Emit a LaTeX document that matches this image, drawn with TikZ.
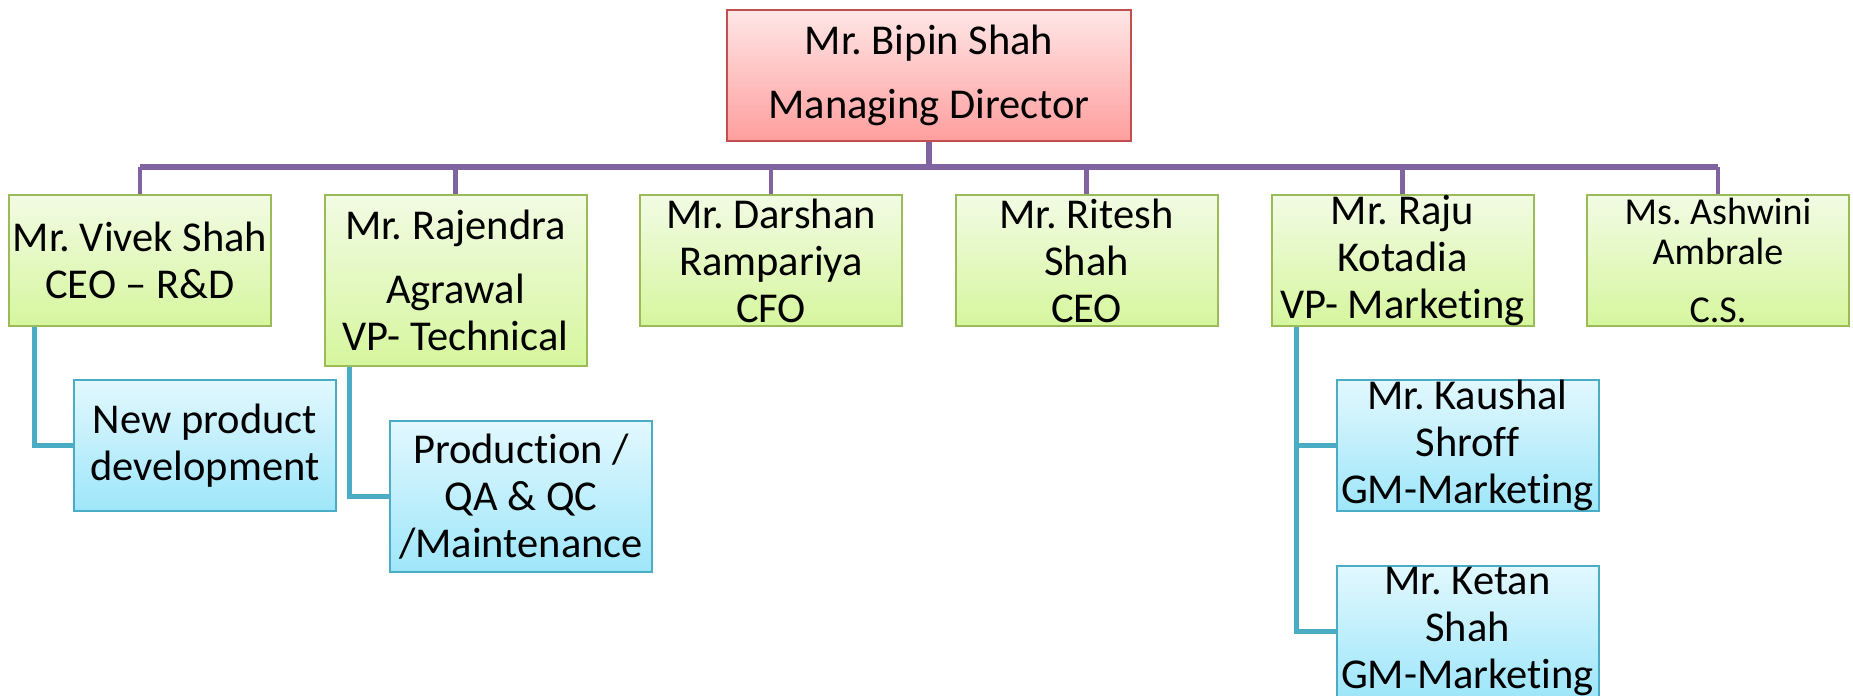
\documentclass[tikz,border=0pt]{standalone}
\usepackage{fontspec}
\setmainfont{Carlito}[Ligatures={NoCommon}]
\frenchspacing
\definecolor{mdred}{RGB}{192,80,77}
\definecolor{mdtop}{RGB}{255,230,230}
\definecolor{mdbot}{RGB}{255,158,158}
\definecolor{gline}{RGB}{155,187,89}
\definecolor{gtop}{RGB}{242,251,228}
\definecolor{gbot}{RGB}{214,246,158}
\definecolor{bline}{RGB}{75,172,198}
\definecolor{btop}{RGB}{226,248,254}
\definecolor{bbot}{RGB}{158,230,250}
\definecolor{orgpurple}{RGB}{128,100,162}
\begin{document}
\begin{tikzpicture}[x=1pt,y=-1pt]
        \tikzstyle{box}=[rectangle,line width=2pt,inner sep=0pt,align=center,font=\fontsize{42.5}{47}\selectfont,minimum width=262pt,minimum height=131pt]
        \tikzstyle{head}=[box,draw=mdred,top color=mdtop,bottom color=mdbot,minimum width=404pt]
        \tikzstyle{member}=[box,draw=gline,top color=gtop,bottom color=gbot]
        \tikzstyle{unit}=[box,draw=bline,top color=btop,bottom color=bbot]
        \tikzstyle{mdline}=[orgpurple,line width=6.5pt]
        \tikzstyle{dropline}=[orgpurple,line width=4.5pt]
        \tikzstyle{subline}=[bline,line width=5pt]

      \useasboundingbox (0,0) rectangle (1853,696);

      \begin{scope}
         \node[head] (md) at (929,75.5) {Mr. Bipin Shah\\[17pt] Managing Director};

         \node[member] (g1) at (140,260.5)    {Mr. Vivek Shah\\ CEO \textendash{} R\&D};
         \node[member,minimum height=171pt] (g2) at (455.5,280.5) {Mr. Rajendra\\[17pt] Agrawal\\ VP- Technical};
         \node[member] (g3) at (771,260.5)    {Mr. Darshan\\ Rampariya\\ CFO};
         \node[member] (g4) at (1086.5,260.5) {Mr. Ritesh\\ Shah\\ CEO};
         \node[member] (g5) at (1402.5,260.5) {Mr. Raju\\ Kotadia\\ VP- Marketing};
         \node[member,font=\fontsize{38}{40}\selectfont] (g6) at (1718,260.5) {Ms. Ashwini\\ Ambrale\\[18pt] C.S.};

         \node[unit] (b11) at (205,445.5) {New product\\ development};
         \node[unit,minimum height=151pt] (b21) at (521,496.5) {Production /\\ QA \& QC\\ /Maintenance};
         \node[unit] (b51) at (1467.5,445.5) {Mr. Kaushal\\ Shroff\\ GM-Marketing};
         \node[unit] (b52) at (1467.5,631.5) {Mr. Ketan\\ Shah\\ GM-Marketing};

         \coordinate (bar) at (929,167);

         \draw[mdline] (md.south) -- (bar);
         \draw[mdline] (g1.north |- bar) -- (g6.north |- bar);
         \foreach \g in {g1,g2,g3,g4,g5,g6}
            \draw[dropline] (bar -| \g.north) -- (\g.north);

         \draw[subline] ([xshift=26pt]g1.south west) |- (b11.west);
         \draw[subline] ([xshift=26pt]g2.south west) |- (b21.west);
         \draw[subline] ([xshift=26pt]g5.south west) |- (b51.west);
         \draw[subline] ([xshift=26pt]g5.south west) |- (b52.west);

      \end{scope}
    \end{tikzpicture}
\end{document}
